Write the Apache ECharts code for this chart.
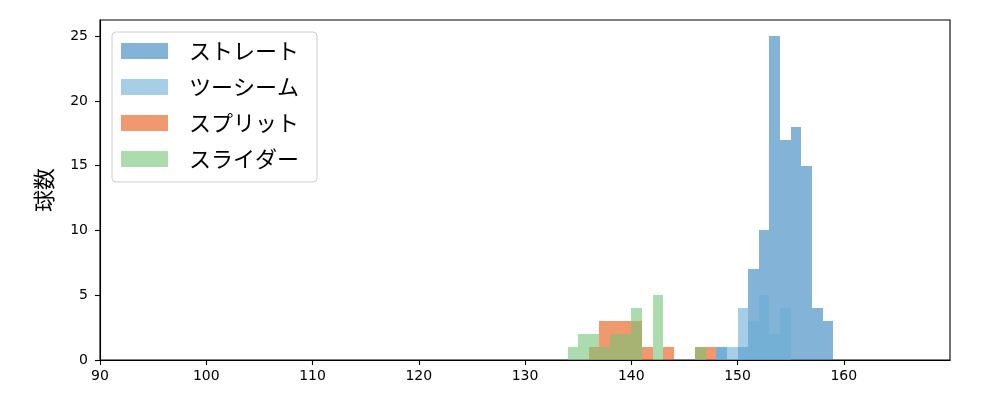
<!DOCTYPE html>
<html>
<head>
<meta charset="utf-8">
<script src="https://cdn.jsdelivr.net/npm/echarts@6/dist/echarts.min.js"></script>
<style>html,body{margin:0;padding:0;background:#fff;}#chart{width:1000px;height:400px;}</style>
</head>
<body>
<div id="chart"></div>
<script>
// Histogram bin edges (km/h), 1 km/h wide
const binEdges = [134,135,136,137,138,139,140,141,142,143,144,145,146,147,148,149,150,151,152,153,154,155,156,157,158,159];
// Counts per bin for each pitch type
const straight = [0,0,0,0,0,0,0,0,0,0,0,0,0,0,1,0,1,7,10,25,17,18,15,4,3];
const twoSeam  = [0,0,0,0,0,0,0,0,0,0,0,0,0,0,1,1,4,3,5,2,4,0,0,0,0];
const split    = [0,0,1,3,3,3,3,1,0,1,0,0,1,1,0,0,0,0,0,0,0,0,0,0,0];
const slider   = [1,2,2,1,2,2,4,0,5,0,0,0,1,0,0,0,0,0,0,0,0,0,0,0,0];
const seriesNames = ['ストレート','ツーシーム','スプリット','スライダー'];
const xTicks = [90,100,110,120,130,140,150,160];
const yTicks = [0,5,10,15,20,25];

const baseColors = ['#3182bd','#6baed6','#e6550d','#74c476'];
const alpha = 0.6;
function blend(hex){
  const r=parseInt(hex.slice(1,3),16),g=parseInt(hex.slice(3,5),16),b=parseInt(hex.slice(5,7),16);
  const f=c=>Math.round(alpha*c+(1-alpha)*255);
  return 'rgb('+f(r)+','+f(g)+','+f(b)+')';
}
function toData(counts){
  const d=[];
  counts.forEach((c,i)=>{ if(c>0) d.push([binEdges[i],binEdges[i+1],c]); });
  return d;
}
function renderItem(params, api){
  const p0 = api.coord([api.value(0), api.value(2)]);
  const p1 = api.coord([api.value(1), 0]);
  const x0 = Math.round(p0[0]), x1 = Math.round(p1[0]);
  const y0 = Math.round(p0[1]), y1 = Math.round(p1[1]);
  return {
    type:'rect',
    shape:{x:x0, y:y0, width:x1-x0, height:y1-y0},
    style:{fill:api.visual('color'), opacity:alpha}
  };
}
const allCounts=[straight,twoSeam,split,slider];
const series = allCounts.map((c,i)=>({
  type:'custom', name:seriesNames[i], renderItem:renderItem,
  data:toData(c), encode:{x:[0,1], y:2},
  itemStyle:{color:baseColors[i]}
}));

const font='DejaVu Sans';
const chart = echarts.init(document.getElementById('chart'), null, {renderer:'canvas'});
chart.setOption({
  animation:false,
  grid:{left:100,right:50,top:20,bottom:40,show:true,borderColor:'#000',borderWidth:1.1,backgroundColor:'transparent'},
  legend:{
    orient:'vertical', left:112, top:32,
    padding:[8,18,12,9],
    itemWidth:47, itemHeight:16, itemGap:14,
    backgroundColor:'#fff', borderColor:'#ccc', borderWidth:1, borderRadius:4,
    textStyle:{fontFamily:'Noto Sans CJK JP', fontSize:22, color:'#000', padding:[0,0,0,16]},
    data: seriesNames.map((n,i)=>({name:n, icon:'rect', itemStyle:{color:blend(baseColors[i]), opacity:1}}))
  },
  xAxis:{
    type:'value', min:90, max:170,
    axisLine:{show:true,onZero:false,lineStyle:{color:'#000',width:1.1}},
    axisTick:{show:true,length:5,lineStyle:{color:'#000',width:1.1},customValues:xTicks},
    axisLabel:{color:'#000',fontFamily:font,fontSize:14,margin:9,customValues:xTicks},
    splitLine:{show:false}
  },
  yAxis:{
    type:'value', min:0, max:26.25,
    name:'球数', nameLocation:'middle', nameGap:45, nameRotate:90,
    nameTextStyle:{fontFamily:'Noto Sans CJK JP', fontSize:22, color:'#000'},
    axisLine:{show:true,onZero:false,lineStyle:{color:'#000',width:1.1}},
    axisTick:{show:true,length:5,lineStyle:{color:'#000',width:1.1},customValues:yTicks},
    axisLabel:{color:'#000',fontFamily:font,fontSize:14,margin:12,customValues:yTicks},
    splitLine:{show:false}
  },
  series:series
});
</script>
</body>
</html>
